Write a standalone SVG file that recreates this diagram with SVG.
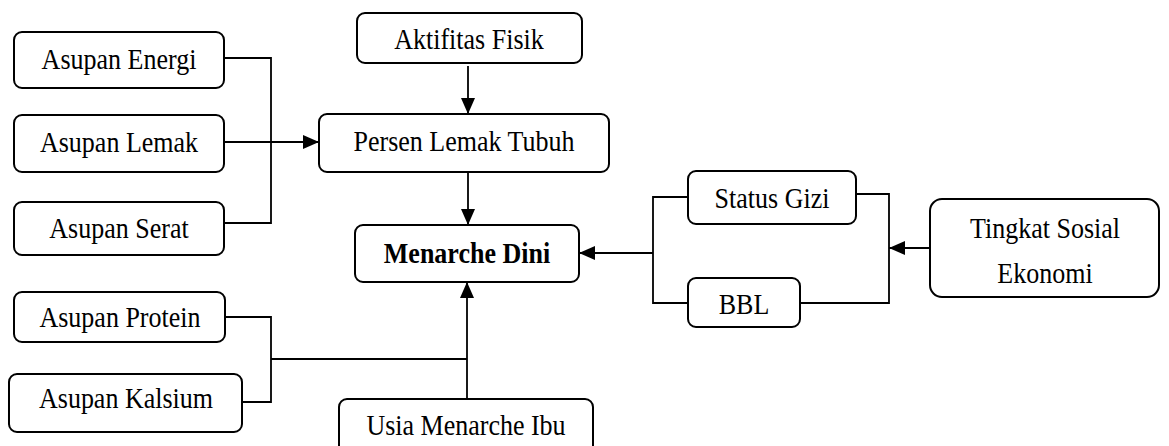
<svg xmlns="http://www.w3.org/2000/svg" width="1169" height="446" viewBox="0 0 1169 446">
<style>
.box{fill:#fff;stroke:#000;stroke-width:2}
.t{font-family:"Liberation Serif","Times New Roman",serif;font-size:26px;fill:#000;text-anchor:middle}
.b{font-weight:bold}
.c{fill:none;stroke:#000;stroke-width:1.8}
</style>
<defs>
<marker id="ah" markerUnits="userSpaceOnUse" markerWidth="16" markerHeight="14" viewBox="0 0 16 14" refX="16" refY="7" orient="auto">
<path d="M0,0 L16,7 L0,14 Z" fill="#000"/>
</marker>
</defs>
<rect width="1169" height="446" fill="#fff"/>
<g id="connectors">
<path class="c" d="M224,58 H271 V223 H224"/>
<path class="c" d="M224,142 H319" marker-end="url(#ah)"/>
<path class="c" d="M468,66 V114" marker-end="url(#ah)"/>
<path class="c" d="M468,172 V225" marker-end="url(#ah)"/>
<path class="c" d="M856,194 H889 V303 H800"/>
<path class="c" d="M930,248 H889" marker-end="url(#ah)"/>
<path class="c" d="M688,197 H653 V303 H688"/>
<path class="c" d="M653,253 H579" marker-end="url(#ah)"/>
<path class="c" d="M225,317 H271 V402 H242"/>
<path class="c" d="M271,359 H467"/>
<path class="c" d="M467,399 V282" marker-end="url(#ah)"/>
</g>
<g id="aktifitas"><rect class="box" x="357" y="13" width="225" height="50" rx="8"/><text class="t" transform="translate(469,49) scale(1,1.1)">Aktifitas Fisik</text></g>
<g id="energi"><rect class="box" x="14" y="32" width="210" height="56" rx="8"/><text class="t" transform="translate(119,69) scale(1,1.1)">Asupan Energi</text></g>
<g id="lemak"><rect class="box" x="14" y="115" width="210" height="57" rx="8"/><text class="t" transform="translate(119,152) scale(1,1.1)">Asupan Lemak</text></g>
<g id="serat"><rect class="box" x="14" y="202" width="210" height="53" rx="8"/><text class="t" transform="translate(119,238) scale(1,1.1)">Asupan Serat</text></g>
<g id="persen"><rect class="box" x="319" y="114" width="290" height="58" rx="8"/><text class="t" transform="translate(464,151) scale(1,1.1)">Persen Lemak Tubuh</text></g>
<g id="menarche"><rect class="box" x="355" y="225" width="224" height="57" rx="8"/><text class="t b" transform="translate(467,263) scale(1,1.1)">Menarche Dini</text></g>
<g id="statusgizi"><rect class="box" x="688" y="171" width="168" height="53" rx="8"/><text class="t" transform="translate(772,208) scale(1,1.1)">Status Gizi</text></g>
<g id="bbl"><rect class="box" x="688" y="278" width="112" height="49" rx="8"/><text class="t" transform="translate(744,314) scale(1,1.1)">BBL</text></g>
<g id="tingkat"><rect class="box" x="930" y="199" width="229" height="98" rx="12"/><text class="t" transform="translate(1045,238) scale(1,1.1)">Tingkat Sosial</text><text class="t" transform="translate(1045,283) scale(1,1.1)">Ekonomi</text></g>
<g id="protein"><rect class="box" x="14" y="292" width="211" height="50" rx="8"/><text class="t" transform="translate(120,327) scale(1,1.1)">Asupan Protein</text></g>
<g id="kalsium"><rect class="box" x="9" y="374" width="233" height="58" rx="8"/><text class="t" transform="translate(126,408) scale(1,1.1)">Asupan Kalsium</text></g>
<g id="usia"><rect class="box" x="339" y="399" width="254" height="60" rx="8"/><text class="t" transform="translate(466,435) scale(1,1.1)">Usia Menarche Ibu</text></g>
</svg>
